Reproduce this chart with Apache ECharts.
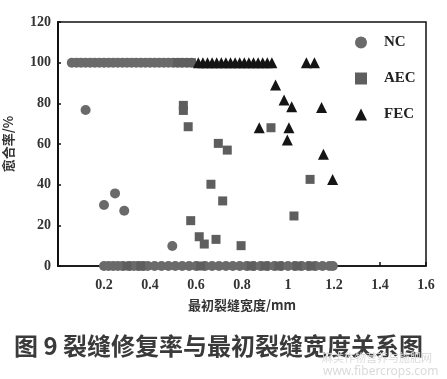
<!DOCTYPE html>
<html><head><meta charset="utf-8">
<script src="https://cdn.jsdelivr.net/npm/echarts@6/dist/echarts.min.js"></script>
<style>html,body{margin:0;padding:0;background:#fff}#c{width:447px;height:379px}</style>
</head><body><div id="c"></div>
<script>
const xTicks = [0.2,0.4,0.6,0.8,1,1.2,1.4,1.6];
const yTicks = [0,20,40,60,80,100,120];
const ncPoints = [
 [0.06,100],[0.08,100],[0.10,100],[0.12,100],[0.14,100],[0.16,100],[0.18,100],[0.20,100],[0.22,100],[0.24,100],
 [0.26,100],[0.28,100],[0.30,100],[0.32,100],[0.34,100],[0.36,100],[0.38,100],[0.40,100],[0.42,100],[0.44,100],
 [0.46,100],[0.48,100],[0.50,100],[0.52,100],[0.54,100],[0.56,100],[0.58,100],
 [0.12,76.7],[0.20,30],[0.248,35.7],[0.288,27.2],[0.497,9.8],
 [0.20,0],[0.22,0],[0.24,0],[0.26,0],[0.28,0],[0.31,0],[0.33,0],[0.35,0],[0.37,0],[0.39,0],[0.42,0],[0.45,0],
 [0.48,0],[0.51,0],[0.54,0],[0.57,0],[0.60,0],[0.64,0],[0.67,0],[0.70,0],[0.73,0],[0.76,0],[0.79,0],[0.82,0],
 [0.85,0],[0.88,0],[0.91,0],[0.94,0],[0.97,0],[1.00,0],[1.03,0],[1.06,0],[1.09,0],[1.12,0],[1.15,0],[1.18,0],[1.195,0]
];
const aecPoints = [
 [0.52,100],[0.55,100],[0.58,100],
 [0.545,79],[0.545,76.5],[0.566,68.5],[0.697,60.3],[0.736,57],[0.665,40.2],[0.716,32],[0.577,22.3],
 [0.614,14.4],[0.636,10.8],[0.687,13.1],[0.796,10],[0.926,68],[1.096,42.6],[1.026,24.6],
 [0.30,0],[0.36,0],[0.62,0],[0.84,0],[0.90,0],[0.96,0],[1.04,0],[1.10,0]
];
const fecPoints = [
 [0.61,100],[0.63,100],[0.65,100],[0.67,100],[0.69,100],[0.71,100],[0.73,100],[0.75,100],[0.77,100],[0.79,100],
 [0.81,100],[0.83,100],[0.85,100],[0.87,100],[0.89,100],[0.91,100],[0.93,100],[1.08,100],[1.115,100],
 [0.946,89],[0.983,81.6],[1.016,78.3],[1.146,78],[0.875,68],[1.004,68],[0.997,62],[1.154,55],[1.194,42.6]
];
const serif = '"Liberation Serif","Times New Roman",serif';
const chart = echarts.init(document.getElementById('c'));
chart.setOption({
  animation:false,
  backgroundColor:'#fff',
  grid:{left:58,top:22,right:21,bottom:113,containLabel:false,outerBoundsMode:'none',show:true,borderColor:'#111',borderWidth:1.5,backgroundColor:'transparent'},
  legend:{orient:'vertical',left:350,top:30,itemWidth:12,itemHeight:12,itemGap:21,
    textStyle:{fontFamily:serif,fontWeight:'bold',fontSize:15,color:'#222',padding:[0,0,0,12]},
    data:[{name:'NC',icon:'circle'},{name:'AEC',icon:'rect'},{name:'FEC',icon:'triangle'}]},
  xAxis:{type:'value',min:0,max:1.6,interval:0.2,
    name:'最初裂缝宽度/mm',nameLocation:'middle',nameGap:33,
    nameTextStyle:{fontFamily:'"Noto Sans CJK SC",sans-serif',fontWeight:'bold',fontSize:13,color:'#333'},
    axisLine:{lineStyle:{color:'#111',width:1.5}},
    axisTick:{inside:true,length:4,lineStyle:{color:'#111',width:1.5}},
    axisLabel:{fontFamily:serif,fontWeight:'bold',fontSize:14,color:'#333',margin:12,
      formatter:v=>{const t=xTicks.find(a=>Math.abs(a-v)<1e-6);return t===undefined?'':String(t);}},
    splitLine:{show:false}},
  yAxis:{type:'value',min:0,max:120,interval:20,
    name:'愈合率/%',nameLocation:'middle',nameGap:43,nameRotate:90,
    nameTextStyle:{fontFamily:'"Noto Sans CJK SC",sans-serif',fontWeight:'bold',fontSize:13,color:'#333'},
    axisLine:{lineStyle:{color:'#111',width:2}},
    axisTick:{inside:true,length:3,lineStyle:{color:'#111',width:1.5}},
    axisLabel:{fontFamily:serif,fontWeight:'bold',fontSize:14,color:'#333',margin:7,
      formatter:v=>yTicks.includes(v)?String(v):''},
    splitLine:{show:false}},
  series:[
    {name:'NC',type:'scatter',symbol:'circle',symbolSize:10,data:ncPoints,itemStyle:{color:'#6a6a6a',opacity:1}},
    {name:'AEC',type:'scatter',symbol:'rect',symbolSize:9,data:aecPoints,itemStyle:{color:'#5e5e5e',opacity:1}},
    {name:'FEC',type:'scatter',symbol:'triangle',symbolSize:11,data:fecPoints,itemStyle:{color:'#151515',opacity:1}}
  ],
  graphic:[
    {type:'text',left:14,top:334,style:{text:'图 9 裂缝修复率与最初裂缝宽度关系图',fontFamily:'"Noto Sans CJK SC",sans-serif',fontWeight:'bold',fontSize:24,fill:'#3a3a3a'}},
    {type:'text',left:322,top:352,style:{text:'麻类作物营养与施肥网',fontFamily:'"Noto Sans CJK SC",sans-serif',fontSize:11,fill:'#dadada'}},
    {type:'text',left:323,top:366,style:{text:'www.fibercrops.com',fontFamily:'"Noto Sans",sans-serif',fontSize:12,fill:'#dadada'}}
  ]
});
</script></body></html>
